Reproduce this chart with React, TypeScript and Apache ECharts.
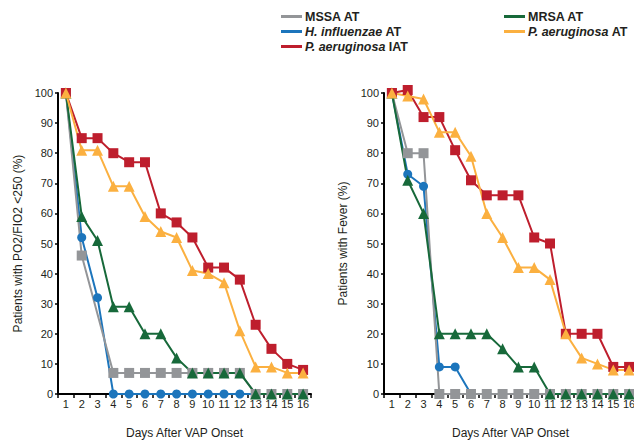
import React, { useEffect, useRef } from "react";
import * as echarts from "echarts";

const days = ["1","2","3","4","5","6","7","8","9","10","11","12","13","14","15","16"];
const yTicks = [0, 100, 10];

const seriesNames = ["MSSA AT", "MRSA AT", "H. influenzae AT", "P. aeruginosa AT", "P. aeruginosa IAT"];

// Left panel: PO2/FIO2 < 250
const po2Mssa = [100, 46, null, 7, 7, 7, 7, 7, 7, 7, 7, 7, 0, 0, 0, 0];
const po2Hinf = [100, 52, 32, 0, 0, 0, 0, 0, 0, 0, 0, 0, 0, 0, 0, 0];
const po2Mrsa = [100, 59, 51, 29, 29, 20, 20, 12, 7, 7, 7, 7, 0, 0, 0, 0];
const po2PaerIat = [100, 85, 85, 80, 77, 77, 60, 57, 52, 42, 42, 38, 23, 15, 10, 8];
const po2PaerAt = [100, 81, 81, 69, 69, 59, 54, 52, 41, 40, 37, 21, 9, 9, 7, 7];

// Right panel: Fever
const fevMssa = [100, 80, 80, 0, 0, 0, 0, 0, 0, 0, 0, 0, 0, 0, 0, 0];
const fevHinf = [100, 73, 69, 9, 9, 0, 0, 0, 0, 0, 0, 0, 0, 0, 0, 0];
const fevMrsa = [100, 71, 60, 20, 20, 20, 20, 15, 9, 9, 0, 0, 0, 0, 0, 0];
const fevPaerIat = [100, 101, 92, 92, 81, 71, 66, 66, 66, 52, 50, 20, 20, 20, 9, 9];
const fevPaerAt = [100, 99, 98, 87, 87, 79, 60, 52, 42, 42, 38, 20, 12, 10, 8, 8];

const colors: Record<string, string> = {
  "MSSA AT": "#939598",
  "MRSA AT": "#17693a",
  "H. influenzae AT": "#1c75bc",
  "P. aeruginosa AT": "#fbb040",
  "P. aeruginosa IAT": "#be1e2d",
};
const symbols: Record<string, [string, number]> = {
  "MSSA AT": ["rect", 10],
  "MRSA AT": ["triangle", 11],
  "H. influenzae AT": ["circle", 9],
  "P. aeruginosa AT": ["triangle", 11],
  "P. aeruginosa IAT": ["rect", 10],
};

const FONT = "Liberation Sans, Arial, sans-serif";
const TXT = "#231f20";

export default function App() {
  const ref = useRef<HTMLDivElement>(null);
  useEffect(() => {
    if (!ref.current) return;
    const chart = echarts.init(ref.current, null, { renderer: "svg" });

    const mk = (name: string, data: (number | null)[], idx: number) => ({
      name,
      type: "line",
      xAxisIndex: idx,
      yAxisIndex: idx,
      data,
      connectNulls: true,
      clip: false,
      symbol: symbols[name][0],
      symbolSize: symbols[name][1],
      itemStyle: { color: colors[name] },
      lineStyle: { color: colors[name], width: 2 },
      emphasis: { disabled: true },
    });

    const xAxis = (gi: number) => ({
      type: "category",
      gridIndex: gi,
      data: days,
      boundaryGap: true,
      name: "Days After VAP Onset",
      nameLocation: "middle",
      nameGap: 33,
      nameTextStyle: { fontFamily: FONT, fontSize: 12, color: TXT },
      axisLine: { lineStyle: { color: "#000", width: 2 } },
      axisTick: { show: true, length: 4, lineStyle: { color: "#000", width: 1.5 } },
      axisLabel: { fontFamily: FONT, fontSize: 11, color: TXT, margin: 4, interval: 0 },
      splitLine: { show: false },
    });
    const yAxis = (gi: number, name: string, gap: number) => ({
      type: "value",
      gridIndex: gi,
      min: yTicks[0],
      max: yTicks[1],
      interval: yTicks[2],
      name,
      nameLocation: "middle",
      nameGap: gap,
      nameTextStyle: { fontFamily: FONT, fontSize: 12, color: TXT },
      axisLine: { show: true, lineStyle: { color: "#000", width: 2 } },
      axisTick: { show: true, length: 3, lineStyle: { color: "#000", width: 1.5 } },
      axisLabel: { fontFamily: FONT, fontSize: 11, color: TXT, margin: 5 },
      splitLine: { show: false },
    });

    const legendText = (name: string) => {
      if (name.startsWith("H. influenzae")) return "{i|H. influenzae} {b|AT}";
      if (name === "P. aeruginosa AT") return "{i|P. aeruginosa} {b|AT}";
      if (name === "P. aeruginosa IAT") return "{i|P. aeruginosa} {b|IAT}";
      return "{b|" + name + "}";
    };
    const legendBase = {
      orient: "vertical",
      top: 5,
      icon: "rect",
      itemWidth: 21,
      itemHeight: 3,
      itemGap: 2,
      selectedMode: false,
      formatter: legendText,
      textStyle: {
        fontFamily: FONT,
        fontSize: 12,
        fontWeight: "bold",
        color: TXT,
        padding: [0, 0, 0, -2],
        rich: {
          i: { fontFamily: FONT, fontSize: 12.5, fontWeight: "bold", fontStyle: "italic", color: TXT, lineHeight: 14 },
          b: { fontFamily: FONT, fontSize: 12.5, fontWeight: "bold", color: TXT, lineHeight: 14 },
        },
      },
    };

    const order: [string, (number | null)[], (number | null)[]][] = [
      ["H. influenzae AT", po2Hinf, fevHinf],
      ["MSSA AT", po2Mssa, fevMssa],
      ["MRSA AT", po2Mrsa, fevMrsa],
      ["P. aeruginosa IAT", po2PaerIat, fevPaerIat],
      ["P. aeruginosa AT", po2PaerAt, fevPaerAt],
    ];
    const series: any[] = [];
    order.forEach(([n, a, b]) => {
      series.push(mk(n, a, 0));
      series.push(mk(n, b, 1));
    });

    chart.setOption({
      animation: false,
      textStyle: { fontFamily: FONT },
      legend: [
        { ...legendBase, left: 276, data: [seriesNames[0], seriesNames[2], seriesNames[4]] },
        { ...legendBase, left: 499, data: [seriesNames[1], seriesNames[3]] },
      ],
      grid: [
        { left: 58, top: 93, width: 253, height: 301, containLabel: false, outerBoundsMode: "none" },
        { left: 384, top: 93, width: 253, height: 301, containLabel: false, outerBoundsMode: "none" },
      ],
      xAxis: [xAxis(0), xAxis(1)],
      yAxis: [
        yAxis(0, "Patients with PO2/FIO2 <250 (%)", 34),
        yAxis(1, "Patients with Fever (%)", 35),
      ],
      series,
    });
    return () => chart.dispose();
  }, []);
  return (
    <div
      ref={ref}
      style={{ position: "fixed", left: 0, top: 0, width: 634, height: 444, background: "#fff" }}
    />
  );
}
